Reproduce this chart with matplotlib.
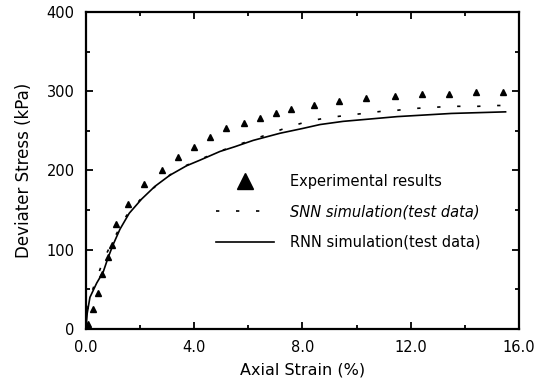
import numpy as np
import matplotlib
matplotlib.use('Agg')
import matplotlib.pyplot as plt
from matplotlib.ticker import MultipleLocator

# experimental points (axial strain %, deviator stress kPa)
exp_strain = [0.09, 0.28, 0.43, 0.6, 0.8, 0.97, 1.12, 1.54, 2.13, 2.82, 3.41, 4.0, 4.6,
              5.19, 5.83, 6.42, 7.01, 7.59, 8.44, 9.36, 10.35, 11.43, 12.4, 13.4,
              14.41, 15.41]
exp_stress = [6, 25, 45, 69, 91, 106, 133, 158, 183, 201, 217, 230, 242,
              253, 260, 266, 272, 277, 283, 288, 291, 294, 296, 296,
              299, 299]

snn_strain = [0.0, 0.1, 0.4, 0.65, 1.0, 1.5, 2.0, 2.5, 3.0, 3.5, 4.0, 4.5, 5.0, 5.5,
              6.0, 6.5, 7.0, 7.5, 8.0, 8.5, 9.0, 9.5, 10.0, 10.5, 11.0, 11.5, 12.0,
              12.5, 13.0, 13.5, 14.0, 14.5, 15.0, 15.5]
snn_stress = [0, 35, 64, 87, 112, 143, 163, 178, 192, 203, 211, 218, 225, 231,
              237, 243, 249, 255, 260, 264, 267, 269, 271, 273, 275, 276, 278,
              279, 280, 281, 281, 281, 282, 282]

rnn_strain = [0.0, 0.05, 0.15, 0.4, 0.64, 0.82, 1.0, 1.26, 1.6, 2.06, 2.55, 3.1, 3.72,
              4.21, 4.95, 5.5, 6.18, 7.17, 8.0, 8.65, 9.5, 10.5, 11.5, 12.5, 13.5,
              14.5, 15.5]
rnn_stress = [0, 20, 40, 58, 72, 90, 106, 126, 146, 164, 180, 194, 206,
              213, 224, 230, 238, 247, 253, 258, 262, 265, 268, 270, 272,
              273, 274]

plt.rcParams['font.family'] = ['DejaVu Sans']
fig = plt.figure(figsize=(5.47, 3.81), dpi=100)
ax = fig.add_axes([0.157, 0.1365, 0.792, 0.832])

ax.plot(exp_strain, exp_stress, linestyle='none', marker='^', color='black',
        markersize=5, label='Experimental results')
ax.plot(snn_strain, snn_stress, color='black', lw=1.2, dashes=(2, 10),
        label='SNN simulation(test data)')
ax.plot(rnn_strain, rnn_stress, color='black', lw=1.2,
        label='RNN simulation(test data)')

ax.set_xlim(0, 16)
ax.set_ylim(0, 400)
ax.xaxis.set_major_locator(MultipleLocator(4))
ax.xaxis.set_minor_locator(MultipleLocator(2))
ax.yaxis.set_major_locator(MultipleLocator(100))
ax.yaxis.set_minor_locator(MultipleLocator(50))
ax.set_xticklabels([f'{v:.1f}' for v in ax.get_xticks()])
ax.tick_params(which='both', direction='in', top=True, right=True, labelsize=10.5, width=1.3)
ax.tick_params(which='major', length=5)
ax.tick_params(which='minor', length=3)
ax.tick_params(axis='y', pad=8)
ax.tick_params(axis='x', pad=8)
for s in ax.spines.values():
    s.set_linewidth(1.6)

ax.set_xlabel('Axial Strain (%)', fontsize=11.5, labelpad=5)
ax.set_ylabel('Deviater Stress (kPa)', fontsize=12, labelpad=10)

leg = ax.legend(loc='upper left', bbox_to_anchor=(0.27, 0.53), frameon=False,
                fontsize=10.5, handlelength=4.0, labelspacing=1.05, markerscale=2.2,
                handletextpad=1.1)
for t in leg.get_texts():
    if t.get_text().startswith('SNN'):
        t.set_fontstyle('italic')

fig.savefig('out.png', dpi=100)
